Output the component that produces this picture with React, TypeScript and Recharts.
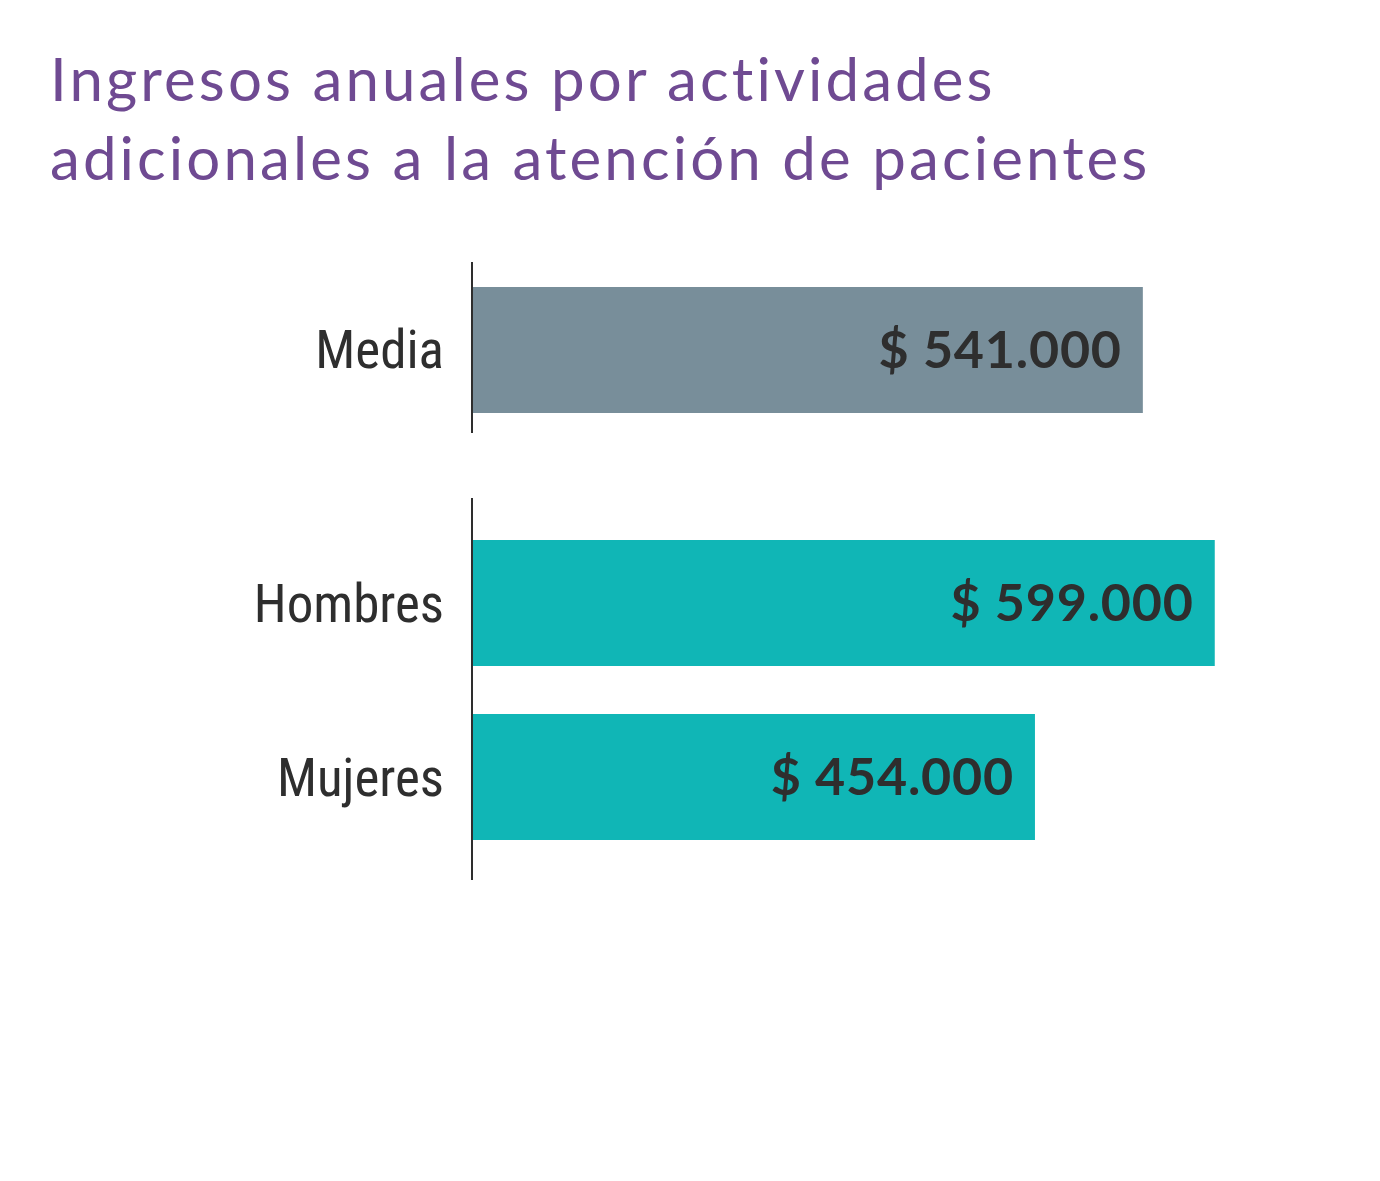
import React from "react";
import { BarChart, Bar, XAxis, YAxis, LabelList } from "recharts";

const TITLE_LINES = [
  "Ingresos anuales por actividades",
  "adicionales a la atención de pacientes",
];

const averageCategories = ["Media"];
const averageValues = [541000];

const genderCategories = ["Hombres", "Mujeres"];
const genderValues = [599000, 454000];

const X_MAX = 700000;

const GRAY = "#788e9a";
const TEAL = "#10b6b6";
const TEXT = "#2e2e2e";
const LABEL_FONT = "'Roboto Condensed', 'Liberation Sans Narrow', 'DejaVu Sans Condensed', Roboto, sans-serif";
const VALUE_FONT = "Lato, 'Open Sans', sans-serif";

const formatMoney = (v: number) =>
  "$ " + v.toLocaleString("de-DE");

const toRows = (cats: string[], vals: number[]) =>
  cats.map((name, i) => ({ name, value: vals[i] }));

interface BarsProps {
  rows: { name: string; value: number }[];
  color: string;
  height: number;
  padTop: number;
  padBottom: number;
}

const Bars = ({ rows, color, height, padTop, padBottom }: BarsProps) => (
  <BarChart
    width={1380}
    height={height}
    data={rows}
    layout="vertical"
    margin={{ top: 0, right: 40, bottom: 0, left: 0 }}
    barCategoryGap={0}
  >
    <XAxis type="number" domain={[0, X_MAX]} hide />
    <YAxis
      type="category"
      dataKey="name"
      width={472}
      padding={{ top: padTop, bottom: padBottom }}
      axisLine={{ stroke: TEXT, strokeWidth: 2 }}
      tickLine={false}
      tickSize={0}
      tickMargin={28}
      tick={{ fill: TEXT, fontSize: 53, fontFamily: LABEL_FONT }}
    />
    <Bar dataKey="value" fill={color} barSize={126} isAnimationActive={false}>
      <LabelList
        dataKey="value"
        position="insideRight"
        offset={21}
        formatter={(v: number) => formatMoney(v)}
        fill={TEXT}
        fontSize={52}
        fontWeight={700}
        fontFamily={VALUE_FONT}
        style={{ letterSpacing: 0.8 }}
      />
    </Bar>
  </BarChart>
);

export default function App() {
  return (
    <div
      style={{
        position: "absolute",
        left: 0,
        top: 0,
        width: 1380,
        height: 1181,
        background: "#fff",
        overflow: "hidden",
      }}
    >
      <div
        style={{
          position: "absolute",
          left: 50,
          top: 39,
          color: "#6f4a92",
          fontFamily: "Lato, sans-serif",
          fontSize: 60,
          lineHeight: "79px",
          letterSpacing: 3.1,
          whiteSpace: "nowrap",
        }}
      >
        {TITLE_LINES.map((line) => (
          <div key={line}>{line}</div>
        ))}
      </div>
      <div style={{ position: "absolute", left: 0, top: 262 }}>
        <Bars
          rows={toRows(averageCategories, averageValues)}
          color={GRAY}
          height={171}
          padTop={4}
          padBottom={0}
        />
      </div>
      <div style={{ position: "absolute", left: 0, top: 498 }}>
        <Bars
          rows={toRows(genderCategories, genderValues)}
          color={TEAL}
          height={382}
          padTop={18}
          padBottom={16}
        />
      </div>
    </div>
  );
}
